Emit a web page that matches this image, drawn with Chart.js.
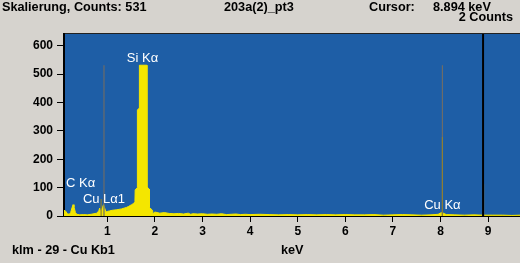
<!DOCTYPE html>
<html>
<head>
<meta charset="utf-8">
<script src="https://cdn.jsdelivr.net/npm/chart.js@4"></script>
<style>
  body { margin: 0; background: #d6d3ce; }
  #wrap { position: relative; width: 520px; height: 263px; font: bold 12.7px "Liberation Sans", Arial, sans-serif; color: #000; }
  #wrap canvas { position: absolute; left: 0; top: 0; }
  .txt { position: absolute; white-space: nowrap; line-height: 14px; }
</style>
</head>
<body>
<div id="wrap">
  <canvas id="spectrum" width="520" height="263"></canvas>
  <div class="txt" style="left:2px;top:0px">Skalierung, Counts: 531</div>
  <div class="txt" style="left:224px;top:0px">203a(2)_pt3</div>
  <div class="txt" style="left:369px;top:0px">Cursor:</div>
  <div class="txt" style="left:433px;top:0px">8.894 keV</div>
  <div class="txt" style="right:7px;top:10px">2 Counts</div>
  <div class="txt" style="left:12px;top:243px">klm - 29 - Cu Kb1</div>
  <div class="txt" style="left:281px;top:243px">keV</div>
</div>
<script>
// EDX spectrum (keV / counts)
const spectrumKeV = [0.09, 0.12, 0.16, 0.20, 0.23, 0.26, 0.28, 0.30, 0.33, 0.36, 0.42, 0.50, 0.58, 0.66, 0.72, 0.78,
  0.82, 0.84, 0.86, 0.88, 0.90, 0.92, 0.94, 0.97, 1.00, 1.05, 1.10, 1.20, 1.30, 1.40, 1.45, 1.51, 1.55, 1.58,
  1.585, 1.63, 1.632, 1.67, 1.674, 1.83, 1.833, 1.88, 1.885, 1.95, 1.96, 2.00, 2.10, 2.20, 2.30, 2.40, 2.50,
  2.60, 2.70, 2.75, 2.80, 2.90, 3.00, 3.10, 3.20, 3.30, 3.40, 3.50, 3.60, 3.70, 3.80, 3.90, 4.00, 4.20, 4.40,
  4.60, 4.80, 5.00, 5.20, 5.40, 5.60, 5.80, 6.00, 6.20, 6.40, 6.60, 6.80, 7.00, 7.20, 7.40, 7.60, 7.80, 7.95,
  8.02, 8.06, 8.12, 8.30, 8.50, 8.70, 8.90, 9.10, 9.30, 9.50, 9.67];
const spectrumCounts = [20, 18, 8, 6, 12, 30, 40, 32, 12, 6, 4, 5, 4, 6, 8, 10,
  18, 28, 14, 24, 30, 40, 30, 14, 16, 18, 20, 22, 25, 30, 34, 40, 44, 50,
  92, 100, 373, 380, 531, 531, 102, 95, 30, 20, 8, 14, 10, 12, 9, 8, 9,
  7, 10, 6, 8, 7, 8, 6, 7, 6, 8, 5, 6, 7, 5, 6, 5, 6, 5,
  4, 5, 4, 5, 4, 5, 4, 5, 4, 4, 5, 3, 4, 5, 4, 3, 4, 6,
  12, 10, 5, 4, 3, 4, 3, 3, 3, 2, 3];

// element marker lines
const grayMarkerKeV = [0.93, 8.04];
const grayMarkerCounts = [531, 531];
const oliveMarkerKeV = [0.87, 8.04, 8.905];
const oliveMarkerCounts = [60, 278, 113];
const cursorKeV = 8.894;

// peak labels
const peakNames = ['C K\u03b1', 'Cu L\u03b11', 'Si K\u03b1', 'Cu K\u03b1'];
const peakKeV = [0.277, 0.93, 1.74, 8.04];
const peakLabelCounts = [103, 47, 543, 25];

const xTicks = [1, 2, 3, 4, 5, 6, 7, 8, 9];
const yTicks = [0, 100, 200, 300, 400, 500, 600];
const xMin = 0.09, xMax = 9.67, yMax = 641;

const tickFont = { family: '"Liberation Sans", Arial, sans-serif', size: 12, weight: 'bold' };

const stick = (x, y) => [{ x: x, y: 0 }, { x: x, y: y }];
const datasets = [];
datasets.push({ data: stick(cursorKeV, yMax), borderColor: '#000', borderWidth: 2 });
oliveMarkerKeV.forEach((k, i) => datasets.push({ data: stick(k, oliveMarkerCounts[i]), borderColor: '#8c7e34', borderWidth: 1.2 }));
grayMarkerKeV.forEach((k, i) => datasets.push({ data: stick(k, grayMarkerCounts[i]), borderColor: '#6c6c68', borderWidth: 1.2 }));
datasets.push({
  data: spectrumKeV.map((k, i) => ({ x: k, y: spectrumCounts[i] })),
  borderColor: '#f4e600', backgroundColor: '#f4e600', borderWidth: 1, fill: 'origin'
});

const plotBg = {
  id: 'plotBg',
  beforeDraw(chart) {
    const { ctx, chartArea: a } = chart;
    ctx.save();
    ctx.fillStyle = '#1e5ea6';
    ctx.fillRect(a.left, a.top, a.right - a.left, a.bottom - a.top);
    ctx.fillStyle = '#222';
    ctx.fillRect(a.left, a.top - 1, a.right - a.left, 1);
    ctx.restore();
  }
};

const peakLabels = {
  id: 'peakLabels',
  afterDatasetsDraw(chart) {
    const { ctx, chartArea: a, scales } = chart;
    ctx.save();
    ctx.font = '13px "Liberation Sans", Arial, sans-serif';
    ctx.fillStyle = '#fff';
    ctx.textBaseline = 'alphabetic';
    peakNames.forEach((name, i) => {
      const w = ctx.measureText(name).width;
      let left = scales.x.getPixelForValue(peakKeV[i]) - w / 2;
      if (left < a.left + 2) left = a.left + 2;
      ctx.fillText(name, left, scales.y.getPixelForValue(peakLabelCounts[i]));
    });
    ctx.restore();
  }
};

new Chart(document.getElementById('spectrum'), {
  type: 'line',
  data: { datasets: datasets },
  plugins: [plotBg, peakLabels],
  options: {
    responsive: false,
    animation: false,
    events: [],
    layout: { padding: { top: 34, right: 0, left: 0, bottom: 0 } },
    plugins: { legend: { display: false }, tooltip: { enabled: false } },
    elements: { point: { radius: 0 }, line: { tension: 0 } },
    scales: {
      x: {
        type: 'linear', min: xMin, max: xMax,
        afterBuildTicks: s => { s.ticks = xTicks.map(v => ({ value: v })); },
        afterFit: s => { s.height = 47; },
        grid: { drawOnChartArea: false, color: '#000', tickLength: 6 },
        border: { color: '#000', width: 2 },
        ticks: { color: '#000', font: tickFont, padding: 2, maxRotation: 0, autoSkip: false }
      },
      y: {
        min: 0, max: yMax,
        afterBuildTicks: s => { s.ticks = yTicks.map(v => ({ value: v })); },
        afterFit: s => { s.width = 64; },
        grid: { drawOnChartArea: false, color: '#000', tickLength: 7 },
        border: { color: '#000', width: 2 },
        ticks: { color: '#000', font: tickFont, padding: 4 }
      }
    }
  }
});
</script>
</body>
</html>
